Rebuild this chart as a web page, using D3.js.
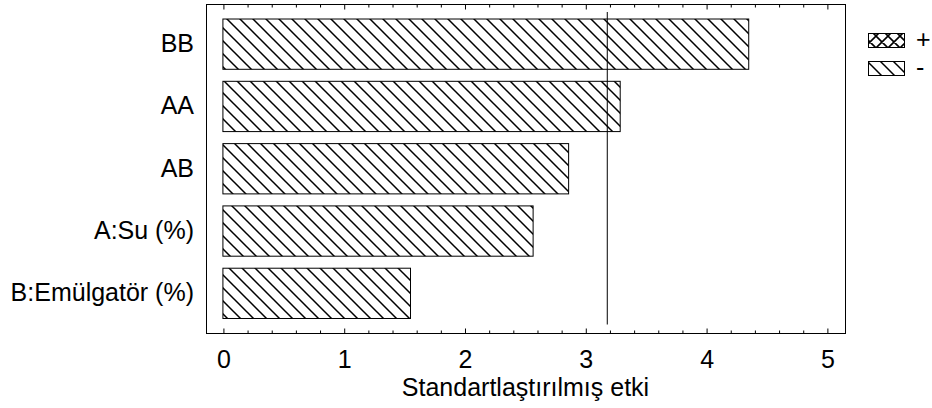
<!DOCTYPE html>
<html>
<head>
<meta charset="utf-8">
<script src="https://cdn.jsdelivr.net/npm/d3@7"></script>
<style>
  html, body { margin: 0; padding: 0; background: #fff; }
  svg { display: block; }
  text { font-family: "Liberation Sans", Arial, Helvetica, sans-serif; fill: #000; }
</style>
</head>
<body>
<svg id="chart" width="932" height="408"></svg>
<script>
// Pareto chart of standardized effects
const categories = ["BB", "AA", "AB", "A:Su (%)", "B:Emülgatör (%)"];
const effects = [4.353, 3.289, 2.862, 2.568, 1.553];
const signs = ["-", "-", "-", "-", "-"];
const criticalValue = 3.182;
const majorTicks = [0, 1, 2, 3, 4, 5];
const minorTicks = [0.2, 0.4, 0.6, 0.8, 1.2, 1.4, 1.6, 1.8, 2.2, 2.4, 2.6, 2.8,
                    3.2, 3.4, 3.6, 3.8, 4.2, 4.4, 4.6, 4.8];
const legendLabels = ["+", "-"];
const xTitle = "Standartlaştırılmış etki";

const frame = { left: 206, right: 845, top: 4, bottom: 333 };
const FONT = 25;

const svg = d3.select("#chart");
const defs = svg.append("defs");

// single diagonal hatch for negative effects
const hatchMinus = defs.append("pattern")
  .attr("id", "hatch-minus").attr("patternUnits", "userSpaceOnUse")
  .attr("width", 13).attr("height", 13);
hatchMinus.append("rect").attr("width", 13).attr("height", 13).attr("fill", "#fff");
hatchMinus.append("path")
  .attr("d", "M0,0L13,13M-4,9L4,17M9,-4L17,4")
  .attr("stroke", "#000").attr("stroke-width", 1.5);

// cross hatch for positive effects
const hatchPlus = defs.append("pattern")
  .attr("id", "hatch-plus").attr("patternUnits", "userSpaceOnUse")
  .attr("width", 12).attr("height", 12);
hatchPlus.append("rect").attr("width", 12).attr("height", 12).attr("fill", "#fff");
hatchPlus.append("path")
  .attr("d", "M0,0L12,12M-4,8L4,16M8,-4L16,4M0,12L12,0M-4,4L4,-4M8,16L16,8")
  .attr("stroke", "#000").attr("stroke-width", 1.6);

const x = d3.scaleLinear().domain([-0.14, 5.15]).range([frame.left, frame.right]);
const y = d3.scaleBand().domain(categories).range([13, 324.5])
  .paddingInner(0.193).paddingOuter(0.0965);

// bars
svg.append("g").selectAll("rect")
  .data(categories.map((c, i) => ({ c, v: effects[i], s: signs[i] })))
  .join("rect")
  .attr("x", x(0))
  .attr("y", d => y(d.c))
  .attr("width", d => x(d.v) - x(0))
  .attr("height", y.bandwidth())
  .attr("fill", d => d.s === "+" ? "url(#hatch-plus)" : "url(#hatch-minus)")
  .attr("stroke", "#000").attr("stroke-width", 1);

// critical value line
svg.append("line")
  .attr("x1", x(criticalValue)).attr("x2", x(criticalValue))
  .attr("y1", y.range()[0] - 1).attr("y2", y.range()[1])
  .attr("stroke", "#000").attr("stroke-width", 1);

// frame
svg.append("rect")
  .attr("x", frame.left + 0.5).attr("y", frame.top + 0.5)
  .attr("width", frame.right - frame.left).attr("height", frame.bottom - frame.top)
  .attr("fill", "none").attr("stroke", "#000").attr("stroke-width", 1);

function styleAxis(g) {
  g.select(".domain").remove();
  g.selectAll(".tick line").attr("stroke", "#000").attr("stroke-width", 1);
}

// bottom axis: major ticks with labels
const bottomMajor = svg.append("g")
  .attr("transform", `translate(0.5,${frame.bottom + 0.5})`)
  .call(d3.axisBottom(x).tickValues(majorTicks).tickSize(-5).tickPadding(17).tickFormat(d3.format("d")))
  .call(styleAxis);
bottomMajor.selectAll(".tick text")
  .attr("font-size", FONT).attr("font-family", null);

// bottom axis: minor ticks
svg.append("g")
  .attr("transform", `translate(0.5,${frame.bottom + 0.5})`)
  .call(d3.axisBottom(x).tickValues(minorTicks).tickSize(-3).tickFormat(""))
  .call(styleAxis);

// top axis: ticks only
svg.append("g")
  .attr("transform", `translate(0.5,${frame.top + 0.5})`)
  .call(d3.axisTop(x).tickValues(majorTicks).tickSize(-5).tickFormat(""))
  .call(styleAxis);
svg.append("g")
  .attr("transform", `translate(0.5,${frame.top + 0.5})`)
  .call(d3.axisTop(x).tickValues(minorTicks).tickSize(-3).tickFormat(""))
  .call(styleAxis);

// category labels
const left = svg.append("g")
  .attr("transform", `translate(${frame.left},0)`)
  .call(d3.axisLeft(y).tickSize(0).tickPadding(12))
  .call(styleAxis);
left.selectAll(".tick text")
  .attr("font-size", FONT).attr("font-family", null);

// x axis title
svg.append("text")
  .attr("x", (frame.left + frame.right) / 2).attr("y", 396)
  .attr("text-anchor", "middle")
  .attr("font-size", FONT)
  .text(xTitle);

// legend
const legend = svg.append("g");
const legendY = [33, 61];
legendLabels.forEach((lab, i) => {
  legend.append("rect")
    .attr("x", 868.5).attr("y", legendY[i] + 0.5)
    .attr("width", 36).attr("height", 14)
    .attr("fill", lab === "+" ? "url(#hatch-plus)" : "url(#hatch-minus)")
    .attr("stroke", "#000").attr("stroke-width", 1);
  legend.append("text")
    .attr("x", 916).attr("y", legendY[i] + 15)
    .attr("font-size", FONT)
    .text(lab);
});
</script>
</body>
</html>
